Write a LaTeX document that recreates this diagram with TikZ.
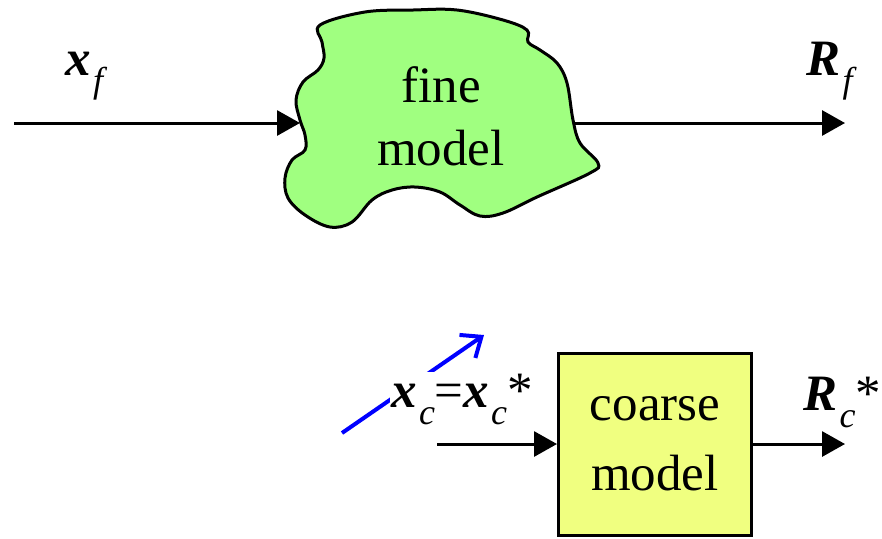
\documentclass[tikz,border=0pt]{standalone}
\usepackage{fontspec}
\setmainfont{Liberation Serif}
\usetikzlibrary{arrows.meta}
\usetikzlibrary{positioning}

\definecolor{finegreen}{RGB}{160,255,128}
\definecolor{coarseyellow}{RGB}{240,255,128}

\newcommand{\bigfont}{\fontsize{25.5}{31.5}\selectfont}
\newcommand{\subfont}{\fontsize{18}{18}\selectfont}
\newcommand{\vsub}[2]{{\bfseries\itshape #1}\hspace{1pt}\raisebox{-8.5pt}{\subfont\itshape #2}}

\begin{document}
\begin{tikzpicture}[%
x={(0.5pt,0pt)},
y={(0pt,-0.5pt)},
line width=1.5pt,
sig/.style={-{Triangle[length=11.5pt,width=12.5pt]}},
lbl/.style={anchor=base west,inner sep=1pt,font=\bigfont},
]
\useasboundingbox (0,0) rectangle (882,538);

%Modelle
\filldraw[fill=finegreen,draw=black] plot[smooth cycle, tension=0.6] coordinates {
(320,25) (365,12) (413,10) (457,10) (503,20) (527,30) (528,42) (540,50)
(557,63) (567,83) (573,120) (580,143) (598,163) (590,173) (537,197)
(503,213) (480,216) (460,205) (440,192) (415,187) (392,190) (372,200)
(352,222) (330,227) (305,215) (288,198) (285,178) (292,160) (305,150)
(305,135) (300,120) (296,100) (303,82) (318,70) (324,58) (322,42)};
\node[font=\bigfont,align=center](fine) at (441,116){fine\\model};
\node[draw,fill=coarseyellow,minimum width=96.5pt,minimum height=91pt,
  font=\fontsize{25.5}{35}\selectfont,align=center](coarse) at (655,444){coarse\\model};

%Anschluesse
\coordinate (xin) at (14,123);
\coordinate (fineW) at (300,123);
\coordinate (fineE) at (573,123);
\coordinate (Rfout) at (845,123);
\coordinate (xcin) at (437,444);
\coordinate (Rcout) at (845,444);
\coordinate (mapA) at (342,433);
\coordinate (mapB) at (484,335);

%Pfeile
\draw[sig] (xin) -- (fineW);
\draw[sig] (fineE) -- (Rfout);
\draw[sig] (xcin) -- (coarse.west);
\draw[sig] (coarse.east) -- (Rcout);
\draw[blue,line width=2pt,-{Straight Barb[length=8.5pt,width=14pt]}] (mapA) -- (mapB);

%Beschriftung
\node[lbl] (xf) at (62,75) {\vsub{x}{f}};
\node[lbl] (Rf) at (803,75) {\vsub{R}{f}};
\node[lbl,fill=white] (xc) at (388,407) {\vsub{x}{c}=\vsub{x}{c}*};
\node[lbl] (Rc) at (800,410) {\vsub{R}{c}*};

\end{tikzpicture}
\end{document}
